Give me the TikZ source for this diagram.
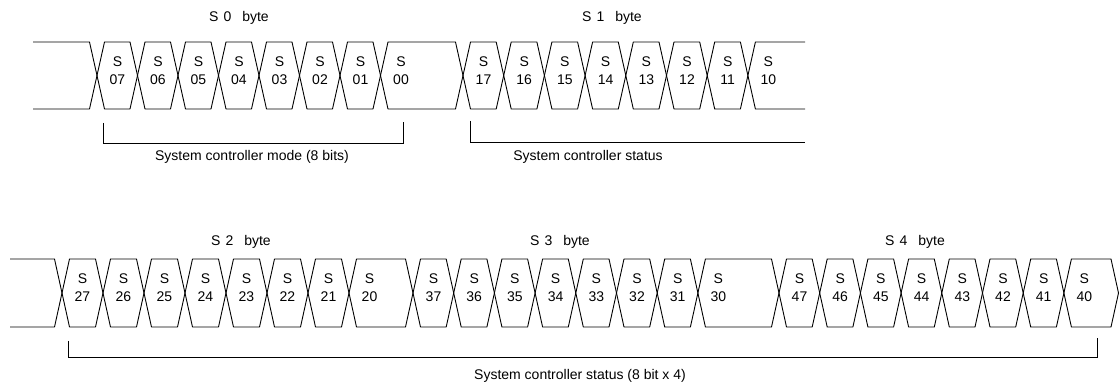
\documentclass[tikz,border=0pt]{standalone}
\usepackage{fontspec}
\setmainfont{Liberation Sans}
\begin{document}
\begin{tikzpicture}[x=1pt,y=-1pt,
  wave/.style={line width=0.9pt, line join=round},
  bracket/.style={line width=0.9pt},
  lbl/.style={font=\fontsize{14}{15}\selectfont, inner sep=0pt, anchor=center},
  ttl/.style={font=\fontsize{14}{15}\selectfont, inner sep=0pt}]
\useasboundingbox (0,0) rectangle (1120,387);

% ---------- Row 1 ----------
\draw[wave] (33,42) -- (89.5,42) -- (97,75.5) -- (89.5,109) -- (33,109);
\foreach \c/\d/\n in {97/137.5/07,137.5/178/06,178/218.5/05,218.5/259/04,259/299.5/03,299.5/340/02,340/380.5/01,380.5/463/00}{
  \draw[wave] (\c,75.5) -- (\c+7.5,42) -- (\d-7.5,42) -- (\d,75.5) -- (\d-7.5,109) -- (\c+7.5,109) -- cycle;
  \node[lbl] (s\n) at (\c+20.5,62) {S};
  \node[lbl] (n\n) at (\c+20.5,80) {\n};
}
\foreach \c/\d/\n in {463/503.7/17,503.7/544.4/16,544.4/585.1/15,585.1/625.8/14,625.8/666.5/13,666.5/707.2/12,707.2/747.9/11}{
  \draw[wave] (\c,75.5) -- (\c+7.5,42) -- (\d-7.5,42) -- (\d,75.5) -- (\d-7.5,109) -- (\c+7.5,109) -- cycle;
  \node[lbl] (s\n) at (\c+20.5,62) {S};
  \node[lbl] (n\n) at (\c+20.5,80) {\n};
}
\draw[wave] (805,42) -- (755.4,42) -- (747.9,75.5) -- (755.4,109) -- (805,109);
\node[lbl] (s10) at (768.4,62) {S};
\node[lbl] (n10) at (768.4,80) {10};

\node[ttl] (t0) at (239,18) {S\hspace{5pt}0\hspace{11pt}byte};
\node[ttl] (t1) at (612,18) {S\hspace{5pt}1\hspace{11pt}byte};

\coordinate (a1) at (103,123);
\coordinate (a2) at (403,122);
\draw[bracket] (a1) -- (103,143) -- (403,143) -- (a2);
\node[lbl] (m0) at (252,157) {System controller mode (8 bits)};
\coordinate (b1) at (470,121);
\coordinate (b2) at (805,142);
\draw[bracket] (b1) -- (470,142) -- (b2);
\node[lbl] (m1) at (588,157) {System controller status};

% ---------- Row 2 ----------
\draw[wave] (10,259) -- (54.5,259) -- (62,293) -- (54.5,327) -- (10,327);
\foreach \c/\d/\n in {62/103/27,103/144/26,144/185/25,185/226/24,226/267/23,267/308/22,308/349/21,349/413/20,
  413/453.7/37,453.7/494.4/36,494.4/535.1/35,535.1/575.8/34,575.8/616.5/33,616.5/657.2/32,657.2/697.9/31,697.9/779/30,
  779/819.7/47,819.7/860.4/46,860.4/901.1/45,901.1/941.8/44,941.8/982.5/43,982.5/1023.2/42,1023.2/1063.9/41,1063.9/1118.5/40}{
  \draw[wave] (\c,293) -- (\c+7.5,259) -- (\d-7.5,259) -- (\d,293) -- (\d-7.5,327) -- (\c+7.5,327) -- cycle;
  \node[lbl] (s\n) at (\c+20.5,279) {S};
  \node[lbl] (n\n) at (\c+20.5,297) {\n};
}
\node[ttl] (t2) at (241,242) {S\hspace{5pt}2\hspace{11pt}byte};
\node[ttl] (t3) at (560,242) {S\hspace{5pt}3\hspace{11pt}byte};
\node[ttl] (t4) at (915,242) {S\hspace{5pt}4\hspace{11pt}byte};

\coordinate (c1) at (68,341);
\coordinate (c2) at (1097,338);
\draw[bracket] (c1) -- (68,357) -- (1097,357) -- (c2);
\node[lbl] (m2) at (580,376) {System controller status (8 bit x 4)};
\end{tikzpicture}
\end{document}
